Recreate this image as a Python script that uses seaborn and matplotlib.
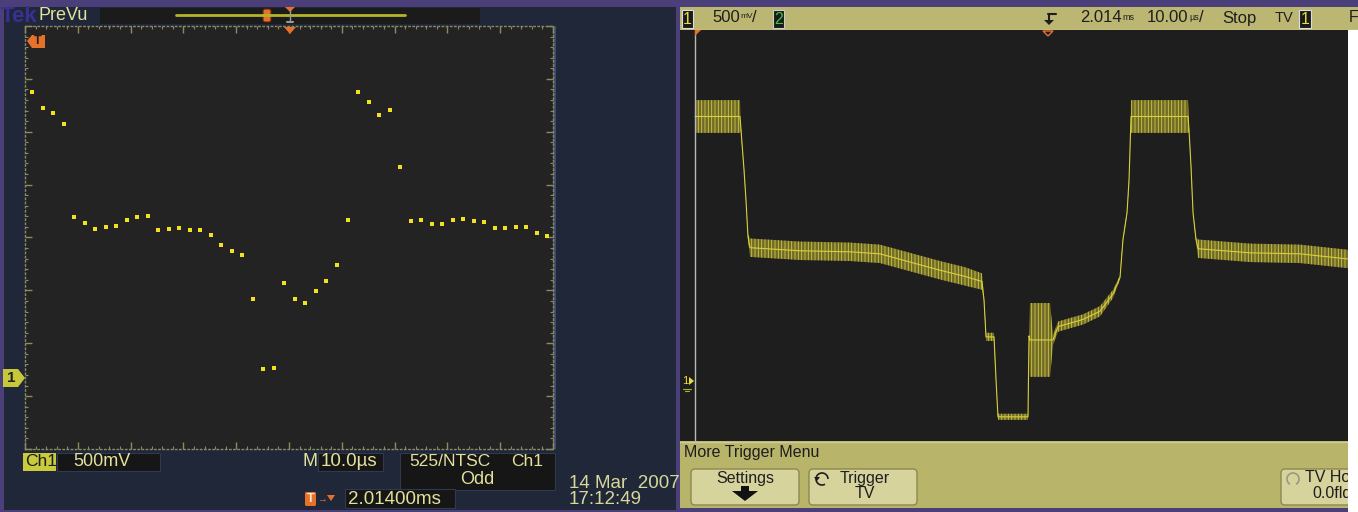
import matplotlib.pyplot as plt
import matplotlib.patches as mpatches
import numpy as np
import seaborn as sns

# ---------------- data read off the two scope captures ----------------
# left: Tek PreVu, 10.0 us/div, 500 mV/div (volts relative to the Ch1 marker)
tek_time_us = [1.38, 3.37, 5.36, 7.35, 9.34, 11.33, 13.32, 15.31, 17.30, 19.29,
               21.28, 23.27, 25.26, 27.25, 29.24, 31.23, 33.22, 35.21, 37.20, 39.19,
               41.18, 43.17, 45.16, 47.15, 49.14, 51.13, 53.12, 55.11, 57.10, 59.09,
               61.08, 63.07, 65.06, 67.05, 69.04, 71.03, 73.02, 75.01, 77.00, 78.99,
               80.98, 82.97, 84.96, 86.95, 88.94, 90.93, 92.92, 94.91, 96.90, 98.89]
tek_volts = [2.70, 2.55, 2.50, 2.40, 1.52, 1.46, 1.41, 1.43, 1.44, 1.49,
             1.52, 1.53, 1.40, 1.41, 1.42, 1.40, 1.40, 1.35, 1.26, 1.20,
             1.16, 0.75, 0.08, 0.09, 0.90, 0.75, 0.71, 0.82, 0.92, 1.07,
             1.49, 2.70, 2.61, 2.49, 2.53, 1.99, 1.48, 1.49, 1.45, 1.45,
             1.49, 1.50, 1.48, 1.47, 1.42, 1.42, 1.43, 1.43, 1.37, 1.34]

# right: Agilent, 10.00 us/div, 500 mV/div - trace centre and noise half-width
agi_time_us = [0.00, 6.25, 6.39, 6.81, 7.08, 7.36, 7.64, 14.58, 21.53, 25.69,
               29.86, 34.03, 37.50, 39.86, 40.14, 40.42, 41.53, 41.81, 42.08, 46.25,
               46.39, 46.53, 49.31, 49.72, 50.42, 53.89, 56.25, 58.06, 59.03, 59.44,
               60.00, 60.28, 60.49, 60.56, 68.47, 68.61, 68.89, 69.17, 69.58, 69.86,
               77.08, 84.03, 90.69]
agi_volts = [2.59, 2.59, 2.46, 2.07, 1.78, 1.42, 1.31, 1.28, 1.27, 1.25,
             1.17, 1.09, 1.03, 0.98, 0.80, 0.44, 0.44, 0.02, -0.34, -0.34,
             0.45, 0.41, 0.41, 0.41, 0.54, 0.61, 0.69, 0.86, 1.02, 1.39,
             1.65, 1.97, 2.44, 2.59, 2.59, 2.46, 2.10, 1.65, 1.39, 1.30,
             1.26, 1.25, 1.20]
agi_noise = [0.16, 0.16, 0.02, 0.02, 0.02, 0.02, 0.09, 0.09, 0.09, 0.09,
             0.09, 0.09, 0.09, 0.08, 0.02, 0.04, 0.04, 0.02, 0.03, 0.03,
             0.02, 0.36, 0.36, 0.05, 0.05, 0.05, 0.05, 0.04, 0.02, 0.02,
             0.02, 0.02, 0.02, 0.16, 0.16, 0.02, 0.02, 0.02, 0.02, 0.09,
             0.09, 0.09, 0.09]

# ---------------- colours ----------------
PURPLE = "#4a3f78"
NAVY = "#1f2739"
TEK_TXT = "#e2e29c"
ORANGE = "#e6722a"
OLIVE_BAR = "#bbb672"
OLIVE_MENU = "#b8b46a"
BTN = "#d6d39c"
INK = "#1e1e1e"

sns.set_theme(style="dark")
plt.rcParams["font.family"] = ["Liberation Sans", "DejaVu Sans"]
plt.rcParams["hatch.linewidth"] = 0.6

W, H = 1358, 512
fig = plt.figure(figsize=(W / 100, H / 100), dpi=100)
fig.patch.set_facecolor(PURPLE)


def px_axes(x0, y0, x1, y1, z):
    return fig.add_axes([x0 / W, 1 - y1 / H, (x1 - x0) / W, (y1 - y0) / H], zorder=z)


def canvas(z):
    ax = px_axes(0, 0, W, H, z)
    ax.set_xlim(0, W)
    ax.set_ylim(H, 0)
    ax.axis("off")
    return ax


def box(ax, x0, y0, x1, y1, fc, ec="none", lw=0, r=0):
    if r:
        p = mpatches.FancyBboxPatch((x0, y0), x1 - x0, y1 - y0, boxstyle=f"round,pad=0,rounding_size={r}",
                                    facecolor=fc, edgecolor=ec, linewidth=lw)
    else:
        p = mpatches.Rectangle((x0, y0), x1 - x0, y1 - y0, facecolor=fc, edgecolor=ec, linewidth=lw)
    ax.add_patch(p)


def poly(ax, pts, fc, ec="none", lw=0):
    ax.add_patch(mpatches.Polygon(pts, closed=True, facecolor=fc, edgecolor=ec, linewidth=lw))


def label(ax, x, y, s, size=13, color=TEK_TXT, ha="left", **kw):
    ax.text(x, y, s, fontsize=size, color=color, ha=ha, va="center", **kw)


bg = canvas(0)
ov = canvas(10)

# ================= left panel: Tek =================
box(bg, 4, 7, 676, 510, NAVY)
box(bg, 100, 8, 480, 24, "#1b1b1b")
label(bg, 1, 16, "Tek", size=16, color="#3b2f92", weight="bold")
label(bg, 39, 15, "PreVu", size=13)
bg.plot([176, 405], [15, 15], color="#b4b42c", lw=2)
box(bg, 263, 9, 271, 22, ORANGE, ec="#5a2a10", lw=0.8, r=2)
bg.plot([290, 290], [10, 22], color="#9a9a9a", lw=1)
bg.plot([287, 293], [22, 22], color="#9a9a9a", lw=1.5)
poly(bg, [(285, 7), (295, 7), (290, 12)], ORANGE)
box(bg, 553, 26, 556, 449, "#3d4d6b")

tek = px_axes(25, 26, 553, 449, 5)
tek.set_facecolor("#232323")
sns.scatterplot(x=tek_time_us, y=tek_volts, ax=tek, marker="s", s=7,
                color="#f2e21c", linewidth=0)
tek.set_xlim(0, 100)
tek.set_ylim(-0.671, 3.327)
tek.set_xticks(np.arange(0, 101, 10))
tek.set_xticks(np.arange(0, 101, 2), minor=True)
tek.set_yticks(3.327 - 0.5 * np.arange(9))
tek.set_yticks(3.327 - 0.1 * np.arange(41), minor=True)
tek.tick_params(which="both", direction="in", colors="#8b8a62", labelbottom=False,
                labelleft=False, top=True, right=True, bottom=True, left=True)
tek.tick_params(which="major", length=5, width=1)
tek.tick_params(which="minor", length=2.5, width=0.8)
tek.grid(False)
tek.set_xlabel("")
tek.set_ylabel("")
for sp in tek.spines.values():
    sp.set_visible(True)
    sp.set_color("#8b8a62")
    sp.set_linestyle((0, (1, 2)))
    sp.set_linewidth(1)

# markers over the graticule
poly(ov, [(284, 27), (296, 27), (290, 34)], ORANGE)
poly(ov, [(27, 41), (32, 35), (45, 35), (45, 48), (32, 48)], ORANGE)
label(ov, 38, 41.5, "T", size=9, color="#1f1f1f", ha="center", weight="bold")
poly(ov, [(3, 369), (18, 369), (25, 378), (18, 387), (3, 387)], "#c6c83a")
label(ov, 11, 378, "1", size=11, color="#222222", ha="center", weight="bold")

# readouts under the graticule
box(bg, 23, 453, 56, 471, "#c9cb3c")
label(bg, 25, 462, "Ch1", size=12.5, color="#1c1c1c")
box(bg, 57, 453, 160, 471, "#161616", ec="#2f3a4f", lw=0.8)
label(bg, 73, 462, "500mV")
label(bg, 302, 462, "M")
box(bg, 318, 453, 383, 471, "#161616", ec="#2f3a4f", lw=0.8)
label(bg, 321, 462, "10.0µs", size=13.5)
box(bg, 400, 453, 555, 490, "#161616", ec="#2f3a4f", lw=0.8)
label(bg, 409, 462, "525/NTSC", size=12.5)
label(bg, 511, 462, "Ch1", size=12.5)
label(bg, 477, 480, "Odd", ha="center")
box(bg, 305, 492, 316, 506, ORANGE, r=1.5)
label(bg, 310.5, 499, "T", size=9, color="#f5e6d0", ha="center", weight="bold")
label(bg, 317, 499, "→", size=7, color=ORANGE)
poly(bg, [(327, 495), (335, 495), (331, 501)], ORANGE)
box(bg, 345, 489, 455, 508, "#161616", ec="#2f3a4f", lw=0.8)
label(bg, 348, 499, "2.01400ms", size=13.5)
label(bg, 569, 484, "14 Mar  2007", size=13.5, color="#d8d89a")
label(bg, 569, 500, "17:12:49", size=13.5, color="#d8d89a")

# ================= right panel: Agilent =================
box(bg, 680, 7, 1358, 30, OLIVE_BAR)
bg.plot([680, 1358], [29.5, 29.5], color="#dcd9a8", lw=1)
box(bg, 682, 10, 693, 28, "#1a1a1a", ec="#dddddd", lw=0.8)
label(bg, 687.5, 19, "1", size=11.5, color="#e8e030", ha="center")
label(bg, 712, 18, "500", size=12, color=INK)
label(bg, 740, 17, "mV", size=6, color=INK)
label(bg, 752, 18, "/", size=12, color=INK)
box(bg, 773, 10, 784, 28, "#1a1a1a", ec="#cccccc", lw=0.8)
label(bg, 778.5, 19, "2", size=11.5, color="#3cc43c", ha="center")
bg.plot([1048, 1056], [14, 14], color=INK, lw=1.5)
bg.plot([1049, 1049], [14, 21], color=INK, lw=1.5)
poly(bg, [(1044, 20), (1054, 20), (1049, 25)], INK)
label(bg, 1080, 18, "2.014", size=12, color=INK)
label(bg, 1122, 17, "ms", size=6.5, color=INK)
label(bg, 1147, 18, "10.00", size=12, color=INK)
label(bg, 1189, 17, "µs", size=6.5, color=INK)
label(bg, 1199, 18, "/", size=12, color=INK)
label(bg, 1222, 18, "Stop", size=12, color=INK)
label(bg, 1275, 18, "TV", size=10.5, color=INK)
box(bg, 1299, 10, 1311, 28, "#1a1a1a", ec="#dddddd", lw=0.8)
label(bg, 1305, 19, "1", size=11.5, color="#e8e030", ha="center")
label(bg, 1349, 18, "F", size=11.5, color=INK)

agi = px_axes(680, 30, 1348, 441, 5)
agi.set_facecolor("#1e1e1e")
lo = np.array(agi_volts) - np.array(agi_noise)
hi = np.array(agi_volts) + np.array(agi_noise)
agi.fill_between(agi_time_us, lo, hi, facecolor="#706a2a", edgecolor="#d2ca40",
                 hatch="|||||", linewidth=0)
sns.lineplot(x=agi_time_us, y=agi_volts, ax=agi, color="#d8d03a", lw=0.8)
agi.axvline(0, color="#b8b8b8", lw=1)
agi.set_xlim(-2.08, 90.69)
agi.set_ylim(-0.576, 3.434)
agi.set_xticks([])
agi.set_yticks([])
agi.set_xlabel("")
agi.set_ylabel("")
agi.grid(False)
for sp in agi.spines.values():
    sp.set_visible(False)

poly(ov, [(695, 30), (701, 30), (695, 36)], ORANGE)
poly(ov, [(1043, 31), (1053, 31), (1048, 36)], "none", ec=ORANGE, lw=1)
label(ov, 685, 381, "1", size=8, color="#e8e030", ha="center")
poly(ov, [(689, 377), (689, 385), (694, 381)], "#e8e030")
ov.plot([683, 691], [389, 389], color="#b8b030", lw=0.8)
ov.plot([685, 689], [391, 391], color="#b8b030", lw=0.8)

# softkey menu
box(bg, 680, 441, 1358, 508, OLIVE_MENU)
bg.plot([680, 1358], [441.5, 441.5], color="#d0cc98", lw=1)
label(bg, 684, 453, "More Trigger Menu", size=11.5, color=INK)
box(bg, 691, 469, 799, 505, BTN, ec="#8c8850", lw=1, r=4)
label(bg, 745, 479, "Settings", size=11.5, color=INK, ha="center")
poly(bg, [(741, 486), (749, 486), (749, 491), (758, 491), (745, 501), (732, 491), (741, 491)], "#111111")
box(bg, 809, 469, 917, 505, BTN, ec="#8c8850", lw=1, r=4)
bg.add_patch(mpatches.Arc((822, 479), 12, 12, theta1=60, theta2=360, color=INK, lw=1.2))
poly(bg, [(814, 477), (820, 477), (817, 481)], INK)
label(bg, 865, 478, "Trigger", size=11.5, color=INK, ha="center")
label(bg, 865, 493, "TV", size=11.5, color=INK, ha="center")
box(bg, 1281, 469, 1362, 505, BTN, ec="#8c8850", lw=1, r=4)
bg.add_patch(mpatches.Arc((1293, 479), 12, 12, theta1=120, theta2=420, color="#9a9a80", lw=1.2))
label(bg, 1305, 478, "TV Ho", size=11.5, color=INK)
label(bg, 1312, 493, "0.0fld", size=11.5, color=INK)

# blank strip at the right edge of the capture
box(ov, 1348, 30, 1358, 512, "white")

fig.savefig("out.png", dpi=100, facecolor=fig.get_facecolor())
